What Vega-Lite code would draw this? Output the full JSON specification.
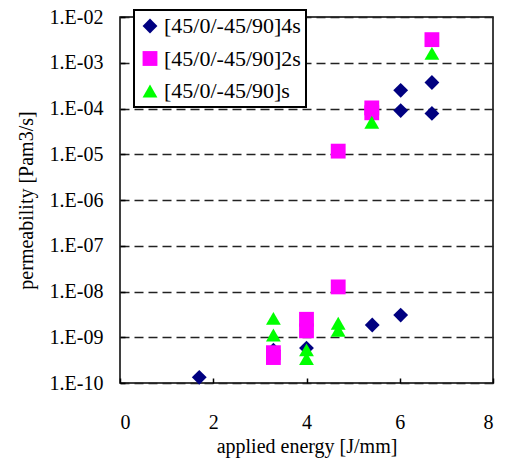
{
  "$schema": "https://vega.github.io/schema/vega-lite/v6.json",
  "width": 373,
  "height": 366,
  "autosize": {"type": "none"},
  "padding": {"left": 120, "top": 17, "right": 12, "bottom": 90},
  "background": "white",
  "config": {
    "font": "Liberation Serif",
    "view": {"stroke": "black", "strokeWidth": 1.5},
    "legend": {"strokeWidth": 2},
    "axis": {"labelFont": "Liberation Serif", "titleFont": "Liberation Serif"}
  },
  "data": {
    "values": [
      {"series": "[45/0/-45/90]4s", "energy": 1.70, "permeability": 1.33e-10},
      {"series": "[45/0/-45/90]4s", "energy": 3.29, "permeability": 5.2e-10},
      {"series": "[45/0/-45/90]4s", "energy": 4.0, "permeability": 5.8e-10},
      {"series": "[45/0/-45/90]4s", "energy": 5.41, "permeability": 1.85e-9},
      {"series": "[45/0/-45/90]4s", "energy": 6.02, "permeability": 3.05e-9},
      {"series": "[45/0/-45/90]4s", "energy": 6.02, "permeability": 2.5e-4},
      {"series": "[45/0/-45/90]4s", "energy": 6.02, "permeability": 9.0e-5},
      {"series": "[45/0/-45/90]4s", "energy": 6.69, "permeability": 3.7e-4},
      {"series": "[45/0/-45/90]4s", "energy": 6.69, "permeability": 7.8e-5},
      {"series": "[45/0/-45/90]2s", "energy": 3.29, "permeability": 4.6e-10},
      {"series": "[45/0/-45/90]2s", "energy": 3.29, "permeability": 3.6e-10},
      {"series": "[45/0/-45/90]2s", "energy": 4.0, "permeability": 2.47e-9},
      {"series": "[45/0/-45/90]2s", "energy": 4.0, "permeability": 1.38e-9},
      {"series": "[45/0/-45/90]2s", "energy": 4.68, "permeability": 1.26e-8},
      {"series": "[45/0/-45/90]2s", "energy": 4.68, "permeability": 1.17e-5},
      {"series": "[45/0/-45/90]2s", "energy": 5.40, "permeability": 1.03e-4},
      {"series": "[45/0/-45/90]2s", "energy": 5.40, "permeability": 8.05e-5},
      {"series": "[45/0/-45/90]2s", "energy": 6.69, "permeability": 3.2e-3},
      {"series": "[45/0/-45/90]s", "energy": 3.29, "permeability": 2.58e-9},
      {"series": "[45/0/-45/90]s", "energy": 3.29, "permeability": 1.12e-9},
      {"series": "[45/0/-45/90]s", "energy": 4.0, "permeability": 5.3e-10},
      {"series": "[45/0/-45/90]s", "energy": 4.0, "permeability": 3.4e-10},
      {"series": "[45/0/-45/90]s", "energy": 4.68, "permeability": 2.02e-9},
      {"series": "[45/0/-45/90]s", "energy": 4.68, "permeability": 1.42e-9},
      {"series": "[45/0/-45/90]s", "energy": 5.40, "permeability": 5.0e-5},
      {"series": "[45/0/-45/90]s", "energy": 6.69, "permeability": 1.6e-3}
    ]
  },
  "mark": {"type": "point", "filled": true, "opacity": 1, "size": 220, "strokeWidth": 0},
  "encoding": {
    "x": {
      "field": "energy",
      "type": "quantitative",
      "scale": {"domain": [0, 8], "nice": false, "zero": false},
      "axis": {
        "values": [0, 2, 4, 6, 8],
        "title": "applied energy [J/mm]",
        "grid": false,
        "domain": false,
        "tickSize": -5,
        "tickColor": "black",
        "tickWidth": 1.5,
        "labelFont": "Liberation Serif",
        "labelFontSize": 20,
        "labelPadding": 34,
        "labelColor": "black",
        "titleFont": "Liberation Serif",
        "titleFontSize": 20,
        "titleFontWeight": "normal",
        "titleColor": "black",
        "titlePadding": 4
      }
    },
    "y": {
      "field": "permeability",
      "type": "quantitative",
      "scale": {"type": "log", "domain": [1e-10, 1e-2], "nice": false},
      "axis": {
        "values": [1e-10, 1e-9, 1e-8, 1e-7, 1e-6, 1e-5, 1e-4, 1e-3, 1e-2],
        "labelExpr": "'1.E-' + (round(-log(datum.value)/LN10) < 10 ? '0' : '') + round(-log(datum.value)/LN10)",
        "title": "permeability [Pam3/s]",
        "grid": true,
        "gridDash": [9, 5],
        "gridColor": "#222222",
        "gridWidth": 1.3,
        "gridOpacity": 1,
        "domain": false,
        "tickSize": -5,
        "tickColor": "black",
        "tickWidth": 1.5,
        "labelFont": "Liberation Serif",
        "labelFontSize": 20,
        "labelPadding": 22,
        "labelColor": "black",
        "titleFont": "Liberation Serif",
        "titleFontSize": 20,
        "titleFontWeight": "normal",
        "titleColor": "black",
        "titlePadding": 13
      }
    },
    "shape": {
      "field": "series",
      "type": "nominal",
      "scale": {
        "domain": ["[45/0/-45/90]4s", "[45/0/-45/90]2s", "[45/0/-45/90]s"],
        "range": ["diamond", "square", "triangle-up"]
      },
      "legend": {
        "orient": "none",
        "legendX": 14,
        "legendY": -7,
        "title": null,
        "strokeColor": "black",
        "fillColor": "white",
        "padding": 5,
        "labelFontSize": 22,
        "labelFont": "Liberation Serif",
        "labelColor": "black",
        "symbolSize": 220,
        "symbolStrokeWidth": 0,
        "symbolOpacity": 1,
        "rowPadding": 10.5,
        "labelOffset": 3
      }
    },
    "color": {
      "field": "series",
      "type": "nominal",
      "scale": {
        "domain": ["[45/0/-45/90]4s", "[45/0/-45/90]2s", "[45/0/-45/90]s"],
        "range": ["#000080", "#FF00FF", "#00FF00"]
      },
      "legend": {
        "orient": "none",
        "legendX": 14,
        "legendY": -7,
        "title": null,
        "strokeColor": "black",
        "fillColor": "white",
        "padding": 5,
        "labelFontSize": 22,
        "labelFont": "Liberation Serif",
        "labelColor": "black",
        "symbolSize": 220,
        "symbolStrokeWidth": 0,
        "symbolOpacity": 1,
        "rowPadding": 10.5,
        "labelOffset": 3
      }
    }
  }
}
